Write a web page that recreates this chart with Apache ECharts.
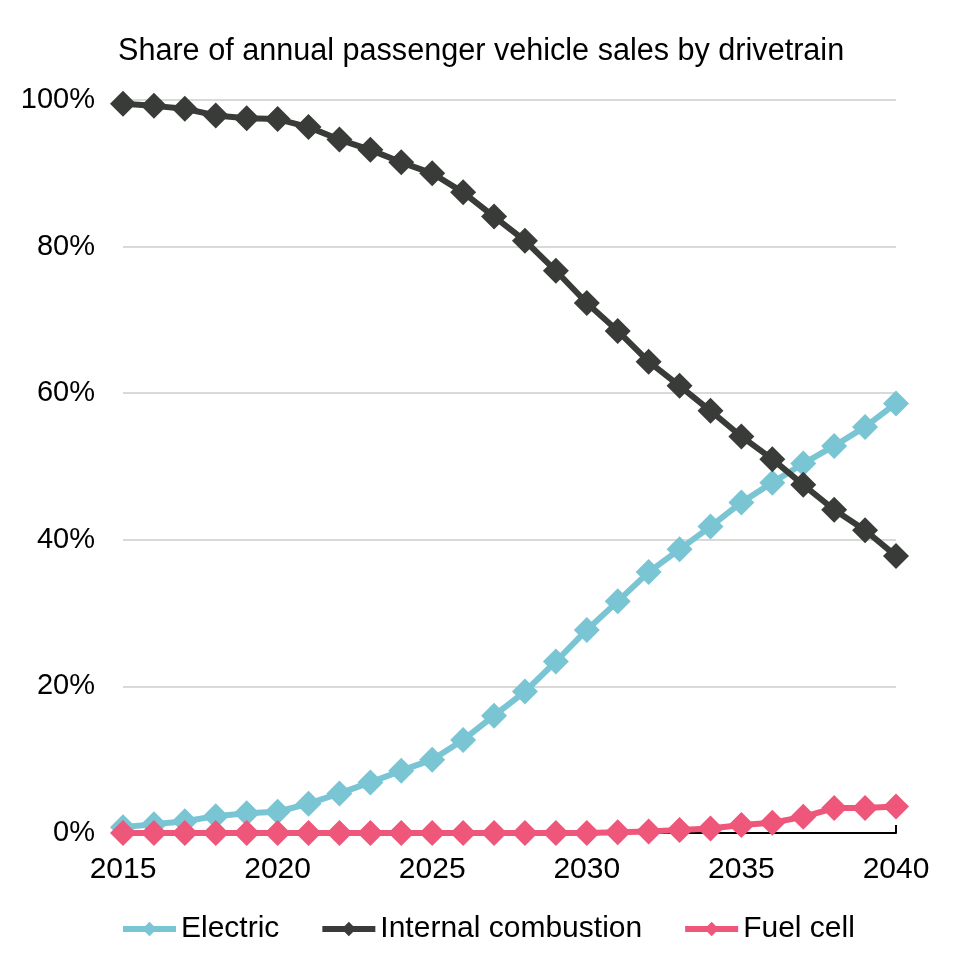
<!DOCTYPE html>
<html>
<head>
<meta charset="utf-8">
<script src="https://cdn.jsdelivr.net/npm/echarts@6/dist/echarts.min.js"></script>
<style>
html,body{margin:0;padding:0;background:#fff;}
#chart{width:954px;height:958px;}
</style>
</head>
<body>
<div id="chart"></div>
<script>
const years = ['2015','2016','2017','2018','2019','2020','2021','2022','2023','2024','2025','2026','2027','2028','2029','2030','2031','2032','2033','2034','2035','2036','2037','2038','2039','2040'];
const electric = [0.8,1.2,1.6,2.3,2.7,2.9,4.0,5.4,6.9,8.5,10.0,12.7,16.0,19.3,23.4,27.7,31.6,35.6,38.7,41.8,45.1,47.8,50.4,52.8,55.4,58.6];
const internalCombustion = [99.5,99.2,98.8,97.9,97.5,97.4,96.3,94.6,93.2,91.5,90.0,87.4,84.1,80.8,76.7,72.3,68.5,64.3,61.0,57.6,54.1,51.0,47.5,44.1,41.3,37.8];
const fuelCell = [0,0,0,0,0,0,0,0,0,0,0,0,0,0,0,0,0.1,0.2,0.4,0.6,1.1,1.4,2.2,3.4,3.4,3.6];
const yTicks = [0,20,40,60,80,100];

const font = '"Liberation Sans", Arial, sans-serif';
const chart = echarts.init(document.getElementById('chart'), null, {renderer:'canvas'});

function mkSeries(name, data, color){
  return {
    name: name, type: 'line', data: data,
    symbol: 'diamond', symbolSize: 26, showAllSymbol: true,
    lineStyle: {width: 6, color: color},
    itemStyle: {color: color},
    emphasis: {disabled: true},
    animation: false
  };
}

chart.setOption({
  backgroundColor: '#ffffff',
  animation: false,
  title: {
    text: 'Share of annual passenger vehicle sales by drivetrain',
    left: 113, top: 31,
    textStyle: {fontFamily: font, fontSize: 30.6, fontWeight: 'normal', color: '#000'}
  },
  grid: {left: 123, right: 58, top: 100, bottom: 125, containLabel: false},
  legend: {
    left: 120, top: 914, padding: 0,
    itemWidth: 53, itemHeight: 18, itemGap: 40,
    lineStyle: {width: 6},
    textStyle: {fontFamily: font, fontSize: 30, color: '#000'},
    data: ['Electric','Internal combustion','Fuel cell']
  },
  xAxis: {
    type: 'category', data: years, boundaryGap: false,
    axisLine: {lineStyle: {color: '#000', width: 2}},
    axisTick: {show: true, inside: true, length: 8, interval: 4, lineStyle: {color: '#000', width: 2}},
    axisLabel: {interval: 4, margin: 22, fontFamily: font, fontSize: 30, color: '#000'},
    splitLine: {show: false}
  },
  yAxis: {
    type: 'value', min: yTicks[0], max: yTicks[yTicks.length-1], interval: 20,
    axisLine: {show: false}, axisTick: {show: false},
    axisLabel: {margin: 28, fontFamily: font, fontSize: 29, color: '#000', formatter: '{value}%'},
    splitLine: {lineStyle: {color: '#D9D9D9', width: 2}}
  },
  series: [
    mkSeries('Electric', electric, '#79C5D3'),
    mkSeries('Internal combustion', internalCombustion, '#393B38'),
    mkSeries('Fuel cell', fuelCell, '#EE567A')
  ]
});
</script>
</body>
</html>
